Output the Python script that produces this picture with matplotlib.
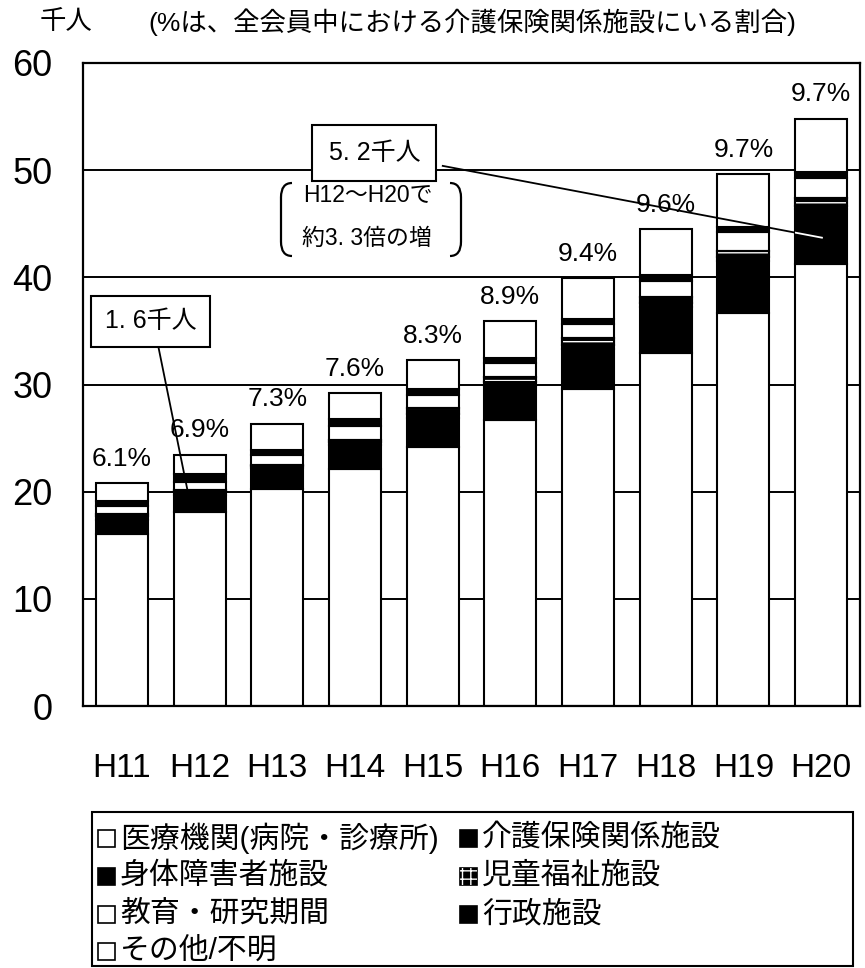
import matplotlib
matplotlib.use("Agg")
import matplotlib.pyplot as plt
from matplotlib.patches import Rectangle, PathPatch
from matplotlib.path import Path
import numpy as np

plt.rcParams['font.family'] = ['Liberation Sans', 'Noto Sans CJK JP']
plt.rcParams['hatch.linewidth'] = 1.0

# --- data (thousand people) ---
years = ['H11', 'H12', 'H13', 'H14', 'H15', 'H16', 'H17', 'H18', 'H19', 'H20']
iryo = [16.07, 18.07, 20.25, 22.10, 24.17, 26.70, 29.60, 32.96, 36.70, 41.20]      # 医療機関
kaigo = [1.27, 1.60, 1.92, 2.22, 2.68, 3.20, 3.75, 4.28, 4.80, 5.20]               # 介護保険関係施設
shintai = [0.40, 0.35, 0.20, 0.30, 0.40, 0.30, 0.35, 0.40, 0.40, 0.30]             # 身体障害者施設
jido = [0.15, 0.10, 0.15, 0.20, 0.60, 0.50, 0.60, 0.50, 0.55, 0.70]                # 児童福祉施設
kyoiku = [0.80, 0.80, 0.90, 1.30, 1.20, 1.30, 1.30, 1.50, 1.75, 1.90]              # 教育・研究期間
gyosei = [0.45, 0.70, 0.50, 0.70, 0.50, 0.50, 0.50, 0.60, 0.50, 0.50]              # 行政施設
sonota = [1.65, 1.84, 2.40, 2.35, 2.70, 3.40, 3.80, 4.25, 4.90, 5.00]              # その他/不明
share_labels = ['6.1%', '6.9%', '7.3%', '7.6%', '8.3%', '8.9%', '9.4%', '9.6%', '9.7%', '9.7%']
yticks = [0, 10, 20, 30, 40, 50, 60]

series_names = ['医療機関(病院・診療所)', '介護保険関係施設', '身体障害者施設', '児童福祉施設',
                '教育・研究期間', '行政施設', 'その他/不明']
series_vals = [iryo, kaigo, shintai, jido, kyoiku, gyosei, sonota]
series_face = ['white', 'black', 'black', 'black', 'white', 'black', 'white']
series_hatch = [None, None, None, '---', None, None, None]

W, H = 865, 968
fig = plt.figure(figsize=(W / 100, H / 100), dpi=100)
fig.patch.set_facecolor('white')


def fx(x):
    return x / W


def fy(y):
    return 1 - y / H


ax_left, ax_right, ax_top, ax_bot = 83, 860, 63, 706
ax = fig.add_axes([fx(ax_left), fy(ax_bot), fx(ax_right - ax_left), (ax_bot - ax_top) / H])
ax.set_xlim(-0.5, len(years) - 0.5)
ax.set_ylim(0, 60)

# horizontal grid behind the bars
for v in yticks[1:-1]:
    ax.axhline(v, color='black', lw=1.4, zorder=1)

x = np.arange(len(years))
bw = 0.67
bottom = np.zeros(len(years))
kaigo_bars = None
for vals, face, hatch in zip(series_vals, series_face, series_hatch):
    vals = np.array(vals)
    bars = ax.bar(x, vals, bw, bottom=bottom, color=face, edgecolor='black', lw=1.5, zorder=3)
    if hatch:
        ax.bar(x, vals, bw, bottom=bottom, color='none', edgecolor='white', hatch=hatch, lw=0, zorder=4)
        ax.bar(x, vals, bw, bottom=bottom, color='none', edgecolor='black', lw=1.5, zorder=4)
    if face == 'black' and kaigo_bars is None:
        kaigo_bars = bars
    bottom = bottom + vals
totals = bottom

for xi, tot, lab in zip(x, totals, share_labels):
    ax.annotate(lab, (xi, tot), xytext=(0, 9), textcoords='offset points',
                ha='center', va='bottom', fontsize=19, zorder=6)

ax.set_yticks(yticks)
ax.set_yticklabels([str(v) for v in yticks], fontsize=26)
ax.set_xticks(x)
ax.set_xticklabels(years, fontsize=24)
ax.tick_params(axis='y', length=0, pad=22)
ax.tick_params(axis='x', length=0, pad=34)
for s in ax.spines.values():
    s.set_linewidth(1.6)
    s.set_color('black')
    s.set_zorder(5)

# unit and note above the plot
fig.text(fx(40), fy(22), '千人', fontsize=19, va='center', ha='left')
fig.text(fx(148), fy(22), '(%は、全会員中における介護保険関係施設にいる割合)', fontsize=19,
         va='center', ha='left')

# callout: H12 care-facility members
ax.plot([0.465, 0.84], [33.7, 20.3], color='black', lw=1.3, zorder=6, clip_on=False)
ax.text(0.37, 35.9, '1. 6千人', fontsize=18, ha='center', va='center', zorder=7,
        bbox=dict(boxstyle='square,pad=0.55', fc='white', ec='black', lw=1.5))

# callout: H20 care-facility members
lx, ly = [4.13, 9.01], [50.4, 43.7]
ax.plot(lx, ly, color='black', lw=1.3, zorder=6)
white_seg, = ax.plot(lx, ly, color='white', lw=1.3, zorder=6.5)
white_seg.set_clip_path(kaigo_bars.patches[9])
ax.text(3.25, 51.6, '5. 2千人', fontsize=18, ha='center', va='center', zorder=7,
        bbox=dict(boxstyle='square,pad=0.65', fc='white', ec='black', lw=1.5))

ax.text(3.17, 47.7, 'H12～H20で', fontsize=16.5, ha='center', va='center', zorder=7)
ax.text(3.15, 43.6, '約3. 3倍の増', fontsize=16.5, ha='center', va='center', zorder=7)


def bracket(x0, y0, y1, d):
    # rounded bracket in pixel coordinates, d>0 opens right, d<0 opens left
    verts = [(x0 + d, y0), (x0, y0), (x0, y0 + abs(d) * 1.3), (x0, y1 - abs(d) * 1.3),
             (x0, y1), (x0 + d, y1)]
    codes = [Path.MOVETO, Path.CURVE3, Path.CURVE3, Path.LINETO, Path.CURVE3, Path.CURVE3]
    verts = [(fx(a), fy(b)) for a, b in verts]
    fig.patches.append(PathPatch(Path(verts, codes), fill=False, lw=1.6, ec='black',
                                 transform=fig.transFigure, figure=fig))


bracket(281, 183, 256, 11)
bracket(461, 183, 256, -11)

# legend drawn as a framed box with two columns
fig.patches.append(Rectangle((fx(92), fy(966)), fx(853 - 92), (966 - 812) / H,
                             transform=fig.transFigure, fill=False, ec='black', lw=1.5, figure=fig))
col_x = [98, 460]
row_y = [838, 876, 914, 951]
order = [(0, 0, 0), (2, 0, 1), (4, 0, 2), (6, 0, 3), (1, 1, 0), (3, 1, 1), (5, 1, 2)]
sq = 17
for si, c, r in order:
    x0 = col_x[c]
    yc = row_y[r]
    fig.patches.append(Rectangle((fx(x0), fy(yc + sq / 2)), fx(sq), sq / H, transform=fig.transFigure,
                                 fc=series_face[si], ec='black', lw=1.2, figure=fig))
    if series_hatch[si]:
        fig.patches.append(Rectangle((fx(x0), fy(yc + sq / 2)), fx(sq), sq / H, transform=fig.transFigure,
                                     fc='none', ec='white', hatch='++', lw=0, figure=fig))
    fig.text(fx(x0 + sq + 5), fy(yc), series_names[si], fontsize=21.5, va='center', ha='left')

fig.savefig('out.png', dpi=100)
